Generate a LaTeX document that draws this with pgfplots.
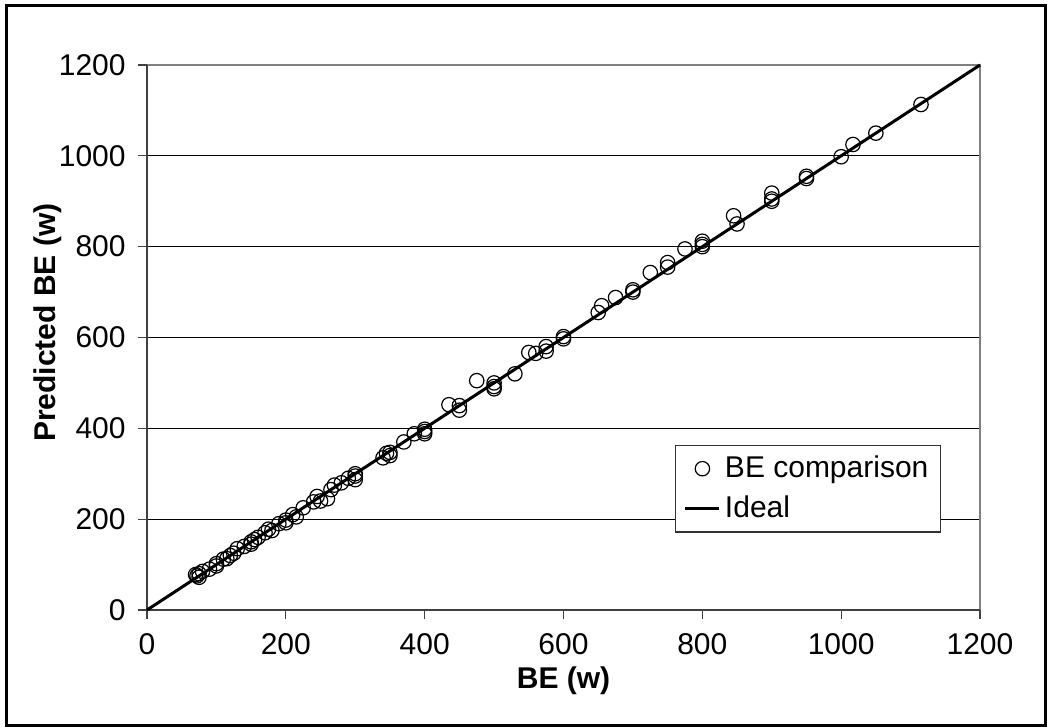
\documentclass[border=0pt]{standalone}
\usepackage{fontspec}
\setmainfont{Liberation Sans}
\usepackage{pgfplots}
\pgfplotsset{compat=1.18}
\begin{document}
\fontsize{15}{18}\selectfont
\begin{tikzpicture}
\path[use as bounding box] (0,0) rectangle (525pt,364pt);
\draw[line width=1.5pt] (3pt,1pt) rectangle (522.5pt,361pt);
\begin{axis}[
  at={(73.5pt,59pt)}, anchor=south west,
  scale only axis, width=416.5pt, height=272.5pt,
  xmin=0, xmax=1200, ymin=0, ymax=1200,
  xtick={0,200,...,1200}, ytick={0,200,...,1200},
  xtick pos=bottom, ytick pos=left,
  tick align=outside, major tick length=4.5pt,
  tick style={black!75, line width=0.6pt},
  axis line style={draw=none},
  ymajorgrids, grid style={black, line width=0.5pt},
  /pgf/number format/assume math mode=true,
  /pgf/number format/1000 sep={},
  ticklabel style={font=\fontsize{15}{18}\selectfont},
  xticklabel style={yshift=-2pt},
  yticklabel style={xshift=-1pt},
  xlabel={\textbf{BE (w)}}, ylabel={\textbf{Predicted BE (w)}},
  label style={font=\fontsize{15}{18}\selectfont},
  xlabel style={at={(axis description cs:0.5,-0.13)}, anchor=center},
  ylabel style={at={(axis description cs:-0.1188,0.527)}, anchor=center},
  legend style={at={(axis description cs:0.9532,0.3028)}, anchor=north east,
    draw=black!80, line width=0.6pt, font=\fontsize{15}{18}\selectfont,
    row sep=3pt, inner xsep=4pt, inner ysep=3pt},
  legend cell align=left,
  clip=false,
]
\draw[black!50, line width=0.6pt] (rel axis cs:0,1) -- (rel axis cs:1,1) -- (rel axis cs:1,0);
\draw[black!75, line width=0.8pt] (rel axis cs:0,1) -- (rel axis cs:0,0) -- (rel axis cs:1,0);
\addplot[only marks, mark=o, mark size=3.6pt, mark options={fill=white, draw=black, line width=0.6pt}] coordinates {
(1115,1113) (1050,1050) (1017,1025) (1000,998) (950,950) (950,955)
(900,900) (900,905) (900,918) (850,850) (845,868)
(800,800) (800,805) (800,812) (775,795) (750,755) (750,765) (725,743)
(700,700) (700,705) (675,688) (655,670) (650,655) (600,597) (600,602)
(575,570) (575,580) (560,565) (550,567) (530,520) (500,487) (500,492) (500,500)
(475,505) (450,440) (450,450) (435,452) (400,388) (400,393) (400,398)
(385,388) (370,370) (350,340) (350,347) (345,345) (340,335)
(300,287) (300,295) (300,300) (290,290) (280,280) (270,275) (260,245) (265,265)
(250,240) (245,250) (240,238) (225,225) (215,205) (210,210) (200,192) (200,198)
(190,190) (180,175) (175,178) (170,170) (160,160) (155,155) (150,145) (150,150)
(140,140) (130,135) (125,125) (120,120) (115,113) (110,112) (100,97) (100,102)
(90,90) (80,85) (75,80) (72,75) (70,78) (75,72)
};
\addlegendentry{BE comparison}
\addplot[black, line width=1.5pt] coordinates {(0,0) (1200,1200)};
\addlegendentry{Ideal}
\end{axis}
\end{tikzpicture}
\end{document}
